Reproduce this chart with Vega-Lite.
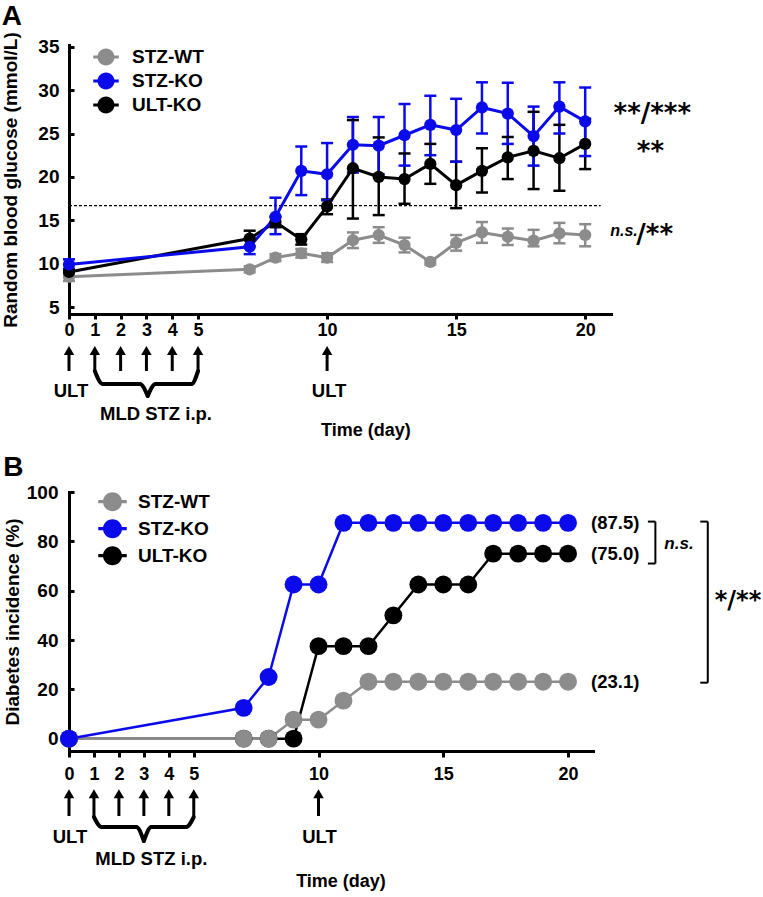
{
  "$schema": "https://vega.github.io/schema/vega-lite/v6.json",
  "background": "white",
  "padding": {"left": 1, "top": 2, "right": 0, "bottom": 0},
  "spacing": 0,
  "bounds": "flush",
  "resolve": {"scale": {"color": "independent"}, "legend": {"color": "independent"}},
  "config": {
    "view": {"stroke": null},
    "axis": {"domainColor": "black", "domainWidth": 3, "domainCap": "square", "tickColor": "black", "tickWidth": 3, "labelColor": "black", "labelFont": "Liberation Sans", "labelFontWeight": "bold", "titleColor": "black", "titleFont": "Liberation Sans", "titleFontWeight": "bold", "grid": false, "labelFlush": false, "labelOverlap": false},
    "legend": {"orient": "none", "direction": "vertical", "padding": 0, "labelFont": "Liberation Sans", "labelFontWeight": "bold", "labelColor": "black", "labelFontSize": 19, "symbolType": "M-1.5,-0.17L1.5,-0.17L1.5,0.17L-1.5,0.17ZM-1,0A1,1,0,1,1,1,0A1,1,0,1,1,-1,0Z", "symbolStrokeWidth": 0, "symbolOpacity": 1},
    "title": {"anchor": "start", "frame": "bounds", "fontSize": 28, "fontWeight": "bold", "font": "Liberation Sans", "color": "black", "offset": 1},
    "text": {"font": "Liberation Sans", "fontWeight": "bold", "color": "black"}
  },
  "datasets": {
    "glucose": [
      {"group": "STZ-WT", "day": 0, "mean": 8.5, "lo": 8.0, "hi": 9.0},
      {"group": "STZ-WT", "day": 7, "mean": 9.35, "lo": 9.0, "hi": 9.7},
      {"group": "STZ-WT", "day": 8, "mean": 10.7, "lo": 10.3, "hi": 11.1},
      {"group": "STZ-WT", "day": 9, "mean": 11.2, "lo": 10.7, "hi": 11.7},
      {"group": "STZ-WT", "day": 10, "mean": 10.7, "lo": 10.2, "hi": 11.2},
      {"group": "STZ-WT", "day": 11, "mean": 12.7, "lo": 11.8, "hi": 13.6},
      {"group": "STZ-WT", "day": 12, "mean": 13.3, "lo": 12.4, "hi": 14.2},
      {"group": "STZ-WT", "day": 13, "mean": 12.15, "lo": 11.3, "hi": 13.0},
      {"group": "STZ-WT", "day": 14, "mean": 10.2, "lo": 9.9, "hi": 10.5},
      {"group": "STZ-WT", "day": 15, "mean": 12.4, "lo": 11.5, "hi": 13.3},
      {"group": "STZ-WT", "day": 16, "mean": 13.6, "lo": 12.4, "hi": 14.8},
      {"group": "STZ-WT", "day": 17, "mean": 13.1, "lo": 12.15, "hi": 14.05},
      {"group": "STZ-WT", "day": 18, "mean": 12.65, "lo": 12.0, "hi": 13.9},
      {"group": "STZ-WT", "day": 19, "mean": 13.5, "lo": 12.35, "hi": 14.7},
      {"group": "STZ-WT", "day": 20, "mean": 13.3, "lo": 12.0, "hi": 14.55},
      {"group": "ULT-KO", "day": 0, "mean": 9.05, "lo": 8.7, "hi": 9.4},
      {"group": "ULT-KO", "day": 7, "mean": 12.9, "lo": 12.0, "hi": 13.8},
      {"group": "ULT-KO", "day": 8, "mean": 14.8, "lo": 14.2, "hi": 15.4},
      {"group": "ULT-KO", "day": 9, "mean": 12.8, "lo": 12.2, "hi": 13.4},
      {"group": "ULT-KO", "day": 10, "mean": 16.6, "lo": 15.7, "hi": 17.4},
      {"group": "ULT-KO", "day": 11, "mean": 21.0, "lo": 15.2, "hi": 26.55},
      {"group": "ULT-KO", "day": 12, "mean": 20.0, "lo": 15.6, "hi": 24.55},
      {"group": "ULT-KO", "day": 13, "mean": 19.75, "lo": 16.9, "hi": 22.7},
      {"group": "ULT-KO", "day": 14, "mean": 21.5, "lo": 19.2, "hi": 23.8},
      {"group": "ULT-KO", "day": 15, "mean": 19.05, "lo": 16.4, "hi": 21.75},
      {"group": "ULT-KO", "day": 16, "mean": 20.7, "lo": 18.2, "hi": 23.3},
      {"group": "ULT-KO", "day": 17, "mean": 22.25, "lo": 19.75, "hi": 24.6},
      {"group": "ULT-KO", "day": 18, "mean": 23.0, "lo": 18.6, "hi": 27.5},
      {"group": "ULT-KO", "day": 19, "mean": 22.15, "lo": 18.4, "hi": 26.0},
      {"group": "ULT-KO", "day": 20, "mean": 23.8, "lo": 20.9, "hi": 26.7},
      {"group": "STZ-KO", "day": 0, "mean": 9.9, "lo": 9.3, "hi": 10.5},
      {"group": "STZ-KO", "day": 7, "mean": 11.95, "lo": 11.1, "hi": 12.9},
      {"group": "STZ-KO", "day": 8, "mean": 15.4, "lo": 13.4, "hi": 17.6},
      {"group": "STZ-KO", "day": 9, "mean": 20.7, "lo": 17.9, "hi": 23.5},
      {"group": "STZ-KO", "day": 10, "mean": 20.3, "lo": 17.3, "hi": 23.9},
      {"group": "STZ-KO", "day": 11, "mean": 23.7, "lo": 20.5, "hi": 26.9},
      {"group": "STZ-KO", "day": 12, "mean": 23.6, "lo": 20.3, "hi": 26.9},
      {"group": "STZ-KO", "day": 13, "mean": 24.8, "lo": 21.3, "hi": 28.4},
      {"group": "STZ-KO", "day": 14, "mean": 26.0, "lo": 22.5, "hi": 29.35},
      {"group": "STZ-KO", "day": 15, "mean": 25.4, "lo": 21.75, "hi": 29.0},
      {"group": "STZ-KO", "day": 16, "mean": 28.0, "lo": 25.0, "hi": 30.9},
      {"group": "STZ-KO", "day": 17, "mean": 27.3, "lo": 23.8, "hi": 30.85},
      {"group": "STZ-KO", "day": 18, "mean": 24.7, "lo": 21.3, "hi": 28.1},
      {"group": "STZ-KO", "day": 19, "mean": 28.1, "lo": 25.0, "hi": 30.9},
      {"group": "STZ-KO", "day": 20, "mean": 26.4, "lo": 22.4, "hi": 30.3}
    ],
    "incidence": [
      {"group": "ULT-KO", "day": 0, "pct": 0},
      {"group": "ULT-KO", "day": 7, "pct": 0},
      {"group": "ULT-KO", "day": 8, "pct": 0},
      {"group": "ULT-KO", "day": 9, "pct": 0},
      {"group": "ULT-KO", "day": 10, "pct": 37.5},
      {"group": "ULT-KO", "day": 11, "pct": 37.5},
      {"group": "ULT-KO", "day": 12, "pct": 37.5},
      {"group": "ULT-KO", "day": 13, "pct": 50},
      {"group": "ULT-KO", "day": 14, "pct": 62.5},
      {"group": "ULT-KO", "day": 15, "pct": 62.5},
      {"group": "ULT-KO", "day": 16, "pct": 62.5},
      {"group": "ULT-KO", "day": 17, "pct": 75},
      {"group": "ULT-KO", "day": 18, "pct": 75},
      {"group": "ULT-KO", "day": 19, "pct": 75},
      {"group": "ULT-KO", "day": 20, "pct": 75},
      {"group": "STZ-WT", "day": 0, "pct": 0},
      {"group": "STZ-WT", "day": 7, "pct": 0},
      {"group": "STZ-WT", "day": 8, "pct": 0},
      {"group": "STZ-WT", "day": 9, "pct": 7.7},
      {"group": "STZ-WT", "day": 10, "pct": 7.7},
      {"group": "STZ-WT", "day": 11, "pct": 15.4},
      {"group": "STZ-WT", "day": 12, "pct": 23.1},
      {"group": "STZ-WT", "day": 13, "pct": 23.1},
      {"group": "STZ-WT", "day": 14, "pct": 23.1},
      {"group": "STZ-WT", "day": 15, "pct": 23.1},
      {"group": "STZ-WT", "day": 16, "pct": 23.1},
      {"group": "STZ-WT", "day": 17, "pct": 23.1},
      {"group": "STZ-WT", "day": 18, "pct": 23.1},
      {"group": "STZ-WT", "day": 19, "pct": 23.1},
      {"group": "STZ-WT", "day": 20, "pct": 23.1},
      {"group": "STZ-KO", "day": 0, "pct": 0},
      {"group": "STZ-KO", "day": 7, "pct": 12.5},
      {"group": "STZ-KO", "day": 8, "pct": 25},
      {"group": "STZ-KO", "day": 9, "pct": 62.5},
      {"group": "STZ-KO", "day": 10, "pct": 62.5},
      {"group": "STZ-KO", "day": 11, "pct": 87.5},
      {"group": "STZ-KO", "day": 12, "pct": 87.5},
      {"group": "STZ-KO", "day": 13, "pct": 87.5},
      {"group": "STZ-KO", "day": 14, "pct": 87.5},
      {"group": "STZ-KO", "day": 15, "pct": 87.5},
      {"group": "STZ-KO", "day": 16, "pct": 87.5},
      {"group": "STZ-KO", "day": 17, "pct": 87.5},
      {"group": "STZ-KO", "day": 18, "pct": 87.5},
      {"group": "STZ-KO", "day": 19, "pct": 87.5},
      {"group": "STZ-KO", "day": 20, "pct": 87.5}
    ],
    "finals": [
      {"group": "STZ-KO", "final": 87.5, "label": "(87.5)"},
      {"group": "ULT-KO", "final": 75.0, "label": "(75.0)"},
      {"group": "STZ-WT", "final": 23.1, "label": "(23.1)"}
    ],
    "treatments": [
      {"day": 0, "event": "ULT"},
      {"day": 1, "event": "STZ"},
      {"day": 2, "event": "STZ"},
      {"day": 3, "event": "STZ"},
      {"day": 4, "event": "STZ"},
      {"day": 5, "event": "STZ"},
      {"day": 10, "event": "ULT"}
    ],
    "braceA": [
      {"half": "L", "day": 1.0, "lvl": 5.7},
      {"half": "L", "day": 1.3, "lvl": 7.0},
      {"half": "L", "day": 2.75, "lvl": 7.0},
      {"half": "L", "day": 3.05, "lvl": 8.2},
      {"half": "R", "day": 3.05, "lvl": 8.2},
      {"half": "R", "day": 3.35, "lvl": 7.0},
      {"half": "R", "day": 4.75, "lvl": 7.0},
      {"half": "R", "day": 5.0, "lvl": 5.7}
    ],
    "braceB": [
      {"half": "L", "day": 1.0, "lvl": 6.6},
      {"half": "L", "day": 1.3, "lvl": 7.6},
      {"half": "L", "day": 2.7, "lvl": 7.6},
      {"half": "L", "day": 3.0, "lvl": 9.0},
      {"half": "R", "day": 3.0, "lvl": 9.0},
      {"half": "R", "day": 3.3, "lvl": 7.6},
      {"half": "R", "day": 4.7, "lvl": 7.6},
      {"half": "R", "day": 5.0, "lvl": 6.6}
    ]
  },
  "vconcat": [
    {
      "width": 542,
      "height": 269,
      "title": {"text": "A"},
      "layer": [
        {
          "data": {"values": [{}]},
          "mark": {"type": "rule", "strokeDash": [3, 2], "strokeWidth": 1.3, "color": "black"},
          "encoding": {
            "x": {"datum": 0, "type": "quantitative", "scale": {"domain": [0, 21], "nice": false, "zero": false},
                  "axis": {"values": [0, 1, 2, 3, 4, 5, 10, 15, 20], "tickSize": 5, "labelPadding": 2, "labelFontSize": 18, "title": null}},
            "x2": {"datum": 20.6},
            "y": {"datum": 16.7, "type": "quantitative", "scale": {"domain": [4.2, 35.2], "nice": false, "zero": false},
                  "axis": {"values": [5, 10, 15, 20, 25, 30, 35], "tickSize": -5, "labelPadding": 15, "labelFontSize": 19, "title": "Random blood glucose (mmol/L)", "titleFontSize": 19, "titlePadding": 17}}
          }
        },
        {
          "data": {"name": "glucose"},
          "layer": [
            {
              "mark": {"type": "rule", "strokeWidth": 2.5},
              "encoding": {
                "x": {"field": "day", "type": "quantitative", "scale": {"domain": [0, 21], "nice": false, "zero": false}},
                "y": {"field": "lo", "type": "quantitative", "scale": {"domain": [4.2, 35.2], "nice": false, "zero": false}},
                "y2": {"field": "hi"},
                "stroke": {"field": "group", "type": "nominal", "scale": {"domain": ["STZ-WT", "STZ-KO", "ULT-KO"], "range": ["#8c8c8c", "#0a0aeb", "#000000"]}, "legend": null}
              }
            },
            {
              "mark": {"type": "tick", "orient": "horizontal", "size": 12, "thickness": 2.5, "opacity": 1},
              "encoding": {
                "x": {"field": "day", "type": "quantitative", "scale": {"domain": [0, 21], "nice": false, "zero": false}},
                "y": {"field": "hi", "type": "quantitative", "scale": {"domain": [4.2, 35.2], "nice": false, "zero": false}},
                "fill": {"field": "group", "type": "nominal", "scale": {"domain": ["STZ-WT", "STZ-KO", "ULT-KO"], "range": ["#8c8c8c", "#0a0aeb", "#000000"]}, "legend": null}
              }
            },
            {
              "mark": {"type": "tick", "orient": "horizontal", "size": 12, "thickness": 2.5, "opacity": 1},
              "encoding": {
                "x": {"field": "day", "type": "quantitative", "scale": {"domain": [0, 21], "nice": false, "zero": false}},
                "y": {"field": "lo", "type": "quantitative", "scale": {"domain": [4.2, 35.2], "nice": false, "zero": false}},
                "fill": {"field": "group", "type": "nominal", "scale": {"domain": ["STZ-WT", "STZ-KO", "ULT-KO"], "range": ["#8c8c8c", "#0a0aeb", "#000000"]}, "legend": null}
              }
            },
            {
              "mark": {"type": "line", "strokeWidth": 3},
              "encoding": {
                "x": {"field": "day", "type": "quantitative", "scale": {"domain": [0, 21], "nice": false, "zero": false}},
                "y": {"field": "mean", "type": "quantitative", "scale": {"domain": [4.2, 35.2], "nice": false, "zero": false}},
                "stroke": {"field": "group", "type": "nominal", "scale": {"domain": ["STZ-WT", "STZ-KO", "ULT-KO"], "range": ["#8c8c8c", "#0a0aeb", "#000000"]}, "legend": null}
              }
            },
            {
              "mark": {"type": "point", "filled": true, "size": 150, "opacity": 1},
              "encoding": {
                "x": {"field": "day", "type": "quantitative", "scale": {"domain": [0, 21], "nice": false, "zero": false}},
                "y": {"field": "mean", "type": "quantitative", "scale": {"domain": [4.2, 35.2], "nice": false, "zero": false}},
                "color": {"field": "group", "type": "nominal", "scale": {"domain": ["STZ-WT", "STZ-KO", "ULT-KO"], "range": ["#8c8c8c", "#0a0aeb", "#000000"]},
                          "legend": {"title": null, "legendX": 27.5, "legendY": 2.5, "symbolSize": 289, "rowPadding": 4, "labelOffset": 16.5}}
              }
            }
          ]
        },
        {
          "data": {"values": [{}]},
          "mark": {"type": "text", "text": "**/***", "align": "left", "baseline": "alphabetic", "font": "DejaVu Sans", "fontSize": 26, "fontWeight": "bold"},
          "encoding": {"x": {"datum": 21.1, "type": "quantitative"}, "y": {"datum": 26.3, "type": "quantitative"}}
        },
        {
          "data": {"values": [{}]},
          "mark": {"type": "text", "text": "**", "align": "left", "baseline": "alphabetic", "font": "DejaVu Sans", "fontSize": 26, "fontWeight": "bold"},
          "encoding": {"x": {"datum": 22.0, "type": "quantitative"}, "y": {"datum": 21.9, "type": "quantitative"}}
        },
        {
          "data": {"values": [{}]},
          "mark": {"type": "text", "text": "n.s.", "align": "left", "baseline": "alphabetic", "fontSize": 16, "fontWeight": "bold", "fontStyle": "italic"},
          "encoding": {"x": {"datum": 20.97, "type": "quantitative"}, "y": {"datum": 13.17, "type": "quantitative"}}
        },
        {
          "data": {"values": [{}]},
          "mark": {"type": "text", "text": "/**", "align": "left", "baseline": "alphabetic", "font": "DejaVu Sans", "fontSize": 26, "fontWeight": "bold"},
          "encoding": {"x": {"datum": 21.98, "type": "quantitative"}, "y": {"datum": 12.36, "type": "quantitative"}}
        }
      ]
    },
    {
      "width": 542,
      "height": 178,
      "layer": [
        {
          "data": {"name": "treatments"},
          "mark": {"type": "rule", "strokeWidth": 3, "color": "black"},
          "encoding": {
            "x": {"field": "day", "type": "quantitative", "scale": {"domain": [0, 21], "nice": false, "zero": false}, "axis": null},
            "y": {"datum": 3.9, "type": "quantitative", "scale": {"domain": [0, 17.8], "reverse": true, "nice": false, "zero": false}, "axis": null},
            "y2": {"datum": 5.7}
          }
        },
        {
          "data": {"name": "treatments"},
          "mark": {"type": "point", "shape": "triangle-up", "filled": true, "size": 110, "color": "black", "opacity": 1},
          "encoding": {
            "x": {"field": "day", "type": "quantitative"},
            "y": {"datum": 3.65, "type": "quantitative"}
          }
        },
        {
          "data": {"name": "braceA"},
          "mark": {"type": "line", "interpolate": "monotone", "strokeWidth": 4, "color": "black", "strokeCap": "round"},
          "encoding": {
            "x": {"field": "day", "type": "quantitative"},
            "y": {"field": "lvl", "type": "quantitative"},
            "detail": {"field": "half"}
          }
        },
        {
          "data": {"name": "treatments"},
          "transform": [{"filter": "datum.event == 'ULT'"}],
          "mark": {"type": "text", "baseline": "middle", "fontSize": 18.5, "dx": 2},
          "encoding": {
            "x": {"field": "day", "type": "quantitative"},
            "y": {"datum": 7.7, "type": "quantitative"},
            "text": {"field": "event"}
          }
        },
        {
          "data": {"values": [{}]},
          "mark": {"type": "text", "text": "MLD STZ i.p.", "baseline": "middle", "fontSize": 18.5},
          "encoding": {"x": {"datum": 3.37, "type": "quantitative"}, "y": {"datum": 10.0, "type": "quantitative"}}
        },
        {
          "data": {"values": [{}]},
          "mark": {"type": "text", "text": "Time (day)", "baseline": "middle", "fontSize": 18},
          "encoding": {"x": {"datum": 11.5, "type": "quantitative"}, "y": {"datum": 11.7, "type": "quantitative"}}
        }
      ]
    },
    {
      "width": 524,
      "height": 259,
      "title": {"text": "B"},
      "layer": [
        {
          "data": {"name": "incidence"},
          "mark": {"type": "line", "strokeWidth": 2.5},
          "encoding": {
            "x": {"field": "day", "type": "quantitative", "scale": {"domain": [0, 21], "nice": false, "zero": false},
                  "axis": {"values": [0, 1, 2, 3, 4, 5, 10, 15, 20], "tickSize": 6, "labelPadding": 8, "labelFontSize": 18, "title": null}},
            "y": {"field": "pct", "type": "quantitative", "scale": {"domain": [-5, 100], "nice": false, "zero": false},
                  "axis": {"values": [0, 20, 40, 60, 80, 100], "tickSize": -5, "labelPadding": 16, "labelFontSize": 19, "title": "Diabetes incidence (%)", "titleFontSize": 19, "titlePadding": 4}},
            "stroke": {"field": "group", "type": "nominal", "scale": {"domain": ["STZ-WT", "STZ-KO", "ULT-KO"], "range": ["#8c8c8c", "#0a0aeb", "#000000"]}, "legend": null}
          }
        },
        {
          "data": {"name": "incidence"},
          "mark": {"type": "point", "filled": true, "size": 320, "opacity": 1},
          "encoding": {
            "x": {"field": "day", "type": "quantitative"},
            "y": {"field": "pct", "type": "quantitative"},
            "color": {"field": "group", "type": "nominal", "scale": {"domain": ["STZ-WT", "STZ-KO", "ULT-KO"], "range": ["#8c8c8c", "#0a0aeb", "#000000"]},
                      "legend": {"title": null, "legendX": 34, "legendY": 0.2, "symbolSize": 361, "rowPadding": 7, "labelOffset": 16}}
          }
        },
        {
          "data": {"name": "finals"},
          "mark": {"type": "text", "align": "left", "baseline": "middle", "fontSize": 18.5},
          "encoding": {
            "x": {"datum": 20.92, "type": "quantitative"},
            "y": {"field": "final", "type": "quantitative"},
            "text": {"field": "label"}
          }
        },
        {
          "data": {"values": [{}]},
          "mark": {"type": "rule", "strokeWidth": 2, "color": "black"},
          "encoding": {"x": {"datum": 23.5, "type": "quantitative"}, "y": {"datum": 88, "type": "quantitative"}, "y2": {"datum": 71}}
        },
        {
          "data": {"values": [{}]},
          "mark": {"type": "rule", "strokeWidth": 2, "color": "black"},
          "encoding": {"x": {"datum": 23.2, "type": "quantitative"}, "x2": {"datum": 23.5}, "y": {"datum": 88, "type": "quantitative"}}
        },
        {
          "data": {"values": [{}]},
          "mark": {"type": "rule", "strokeWidth": 2, "color": "black"},
          "encoding": {"x": {"datum": 23.2, "type": "quantitative"}, "x2": {"datum": 23.5}, "y": {"datum": 71, "type": "quantitative"}}
        },
        {
          "data": {"values": [{}]},
          "mark": {"type": "rule", "strokeWidth": 2, "color": "black"},
          "encoding": {"x": {"datum": 25.6, "type": "quantitative"}, "y": {"datum": 88, "type": "quantitative"}, "y2": {"datum": 22.7}}
        },
        {
          "data": {"values": [{}]},
          "mark": {"type": "rule", "strokeWidth": 2, "color": "black"},
          "encoding": {"x": {"datum": 25.3, "type": "quantitative"}, "x2": {"datum": 25.6}, "y": {"datum": 88, "type": "quantitative"}}
        },
        {
          "data": {"values": [{}]},
          "mark": {"type": "rule", "strokeWidth": 2, "color": "black"},
          "encoding": {"x": {"datum": 25.3, "type": "quantitative"}, "x2": {"datum": 25.6}, "y": {"datum": 22.7, "type": "quantitative"}}
        },
        {
          "data": {"values": [{}]},
          "mark": {"type": "text", "text": "n.s.", "align": "left", "baseline": "alphabetic", "fontSize": 17, "fontWeight": "bold", "fontStyle": "italic"},
          "encoding": {"x": {"datum": 23.86, "type": "quantitative"}, "y": {"datum": 77.0, "type": "quantitative"}}
        },
        {
          "data": {"values": [{}]},
          "mark": {"type": "text", "text": "*/**", "align": "left", "baseline": "alphabetic", "font": "DejaVu Sans", "fontSize": 24, "fontWeight": "bold"},
          "encoding": {"x": {"datum": 25.88, "type": "quantitative"}, "y": {"datum": 53.1, "type": "quantitative"}}
        }
      ]
    },
    {
      "width": 524,
      "height": 145,
      "layer": [
        {
          "data": {"name": "treatments"},
          "mark": {"type": "rule", "strokeWidth": 3, "color": "black"},
          "encoding": {
            "x": {"field": "day", "type": "quantitative", "scale": {"domain": [0, 21], "nice": false, "zero": false}, "axis": null},
            "y": {"datum": 4.6, "type": "quantitative", "scale": {"domain": [0, 14.5], "reverse": true, "nice": false, "zero": false}, "axis": null},
            "y2": {"datum": 6.5}
          }
        },
        {
          "data": {"name": "treatments"},
          "mark": {"type": "point", "shape": "triangle-up", "filled": true, "size": 110, "color": "black", "opacity": 1},
          "encoding": {
            "x": {"field": "day", "type": "quantitative"},
            "y": {"datum": 4.27, "type": "quantitative"}
          }
        },
        {
          "data": {"name": "braceB"},
          "mark": {"type": "line", "interpolate": "monotone", "strokeWidth": 4, "color": "black", "strokeCap": "round"},
          "encoding": {
            "x": {"field": "day", "type": "quantitative"},
            "y": {"field": "lvl", "type": "quantitative"},
            "detail": {"field": "half"}
          }
        },
        {
          "data": {"name": "treatments"},
          "transform": [{"filter": "datum.event == 'ULT'"}],
          "mark": {"type": "text", "baseline": "middle", "fontSize": 18.5, "dx": 1},
          "encoding": {
            "x": {"field": "day", "type": "quantitative"},
            "y": {"datum": 8.6, "type": "quantitative"},
            "text": {"field": "event"}
          }
        },
        {
          "data": {"values": [{}]},
          "mark": {"type": "text", "text": "MLD STZ i.p.", "baseline": "middle", "fontSize": 18.5},
          "encoding": {"x": {"datum": 3.3, "type": "quantitative"}, "y": {"datum": 10.8, "type": "quantitative"}}
        },
        {
          "data": {"values": [{}]},
          "mark": {"type": "text", "text": "Time (day)", "baseline": "middle", "fontSize": 18},
          "encoding": {"x": {"datum": 10.9, "type": "quantitative"}, "y": {"datum": 13.1, "type": "quantitative"}}
        }
      ]
    }
  ]
}
